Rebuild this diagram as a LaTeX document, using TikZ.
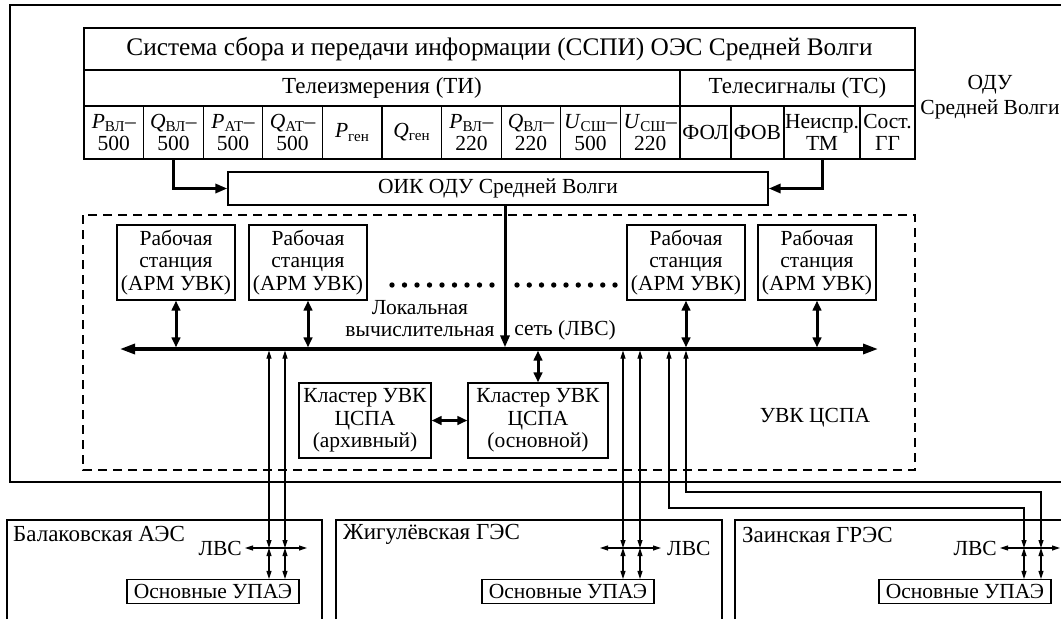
\documentclass[tikz,border=0pt]{standalone}
\usepackage{fontspec}
\setmainfont{Liberation Serif}
\usetikzlibrary{arrows.meta,positioning,calc}

\newcommand{\param}[2]{\textit{#1}\textsubscript{#2}}

\tikzset{
  >={Triangle[length=8pt,width=5pt]},
  font=\fontsize{21.5}{22.5}\selectfont,
  bigfont/.style={font=\fontsize{23}{26}\selectfont},
  frame/.style={line width=1.2pt},
  cell/.style={draw,line width=1.2pt,inner sep=0pt,outer sep=0pt,align=center,
               minimum height=53pt},
  box/.style={draw,line width=1.2pt,inner sep=2pt,align=center},
  wsbox/.style={box,minimum width=118pt,minimum height=75pt},
  upae/.style={box,minimum width=172pt,minimum height=24pt,inner sep=0pt},
  lbl/.style={inner sep=0pt},
  bus/.style={{Triangle[length=15pt,width=10pt]}-{Triangle[length=15pt,width=10pt]},
              line width=3.2pt},
  feed/.style={-{Triangle[length=12pt,width=9pt]},line width=3pt},
  link/.style={{Triangle[length=10pt,width=8.5pt]}-{Triangle[length=10pt,width=8.5pt]},
               line width=3pt},
  wire/.style={<->,line width=1.1pt},
}

\begin{document}
\begin{tikzpicture}[x=1pt,y=-1pt]
  \useasboundingbox (0,0) rectangle (1061,619);

  % ODU frame, open to the right
  \draw[frame] (1061,5) -- (10,5) -- (10,482) -- (1061,482);
  \node[align=center,lbl,font=\fontsize{21.5}{25}\selectfont] (odu) at (990,97.5)
    {ОДУ\\Средней Волги};

  % SSPI table
  \node[cell,minimum width=831pt,minimum height=42pt,font=\fontsize{25.3}{28}\selectfont]
    (sspi) at (499.5,49) {Система сбора и передачи информации (ССПИ) ОЭС Средней Волги};
  \node[cell,bigfont,minimum width=596pt,minimum height=36pt] (ti) at (382,88) {Телеизмерения (ТИ)};
  \node[cell,bigfont,minimum width=235pt,minimum height=36pt] (ts) at (797.5,88) {Телесигналы (ТС)};
  \foreach \txt [count=\i from 0] in {{\param{P}{ВЛ}--\\500},{\param{Q}{ВЛ}--\\500},
      {\param{P}{АТ}--\\500},{\param{Q}{АТ}--\\500},{\param{P}{ген}},{\param{Q}{ген}},
      {\param{P}{ВЛ}--\\220},{\param{Q}{ВЛ}--\\220},{\param{U}{СШ}--\\500},
      {\param{U}{СШ}--\\220}}
    \node[cell,minimum width=59.6pt] (ti\i) at ({113.8+59.6*\i},132.5) {\txt};
  \node[cell,minimum width=51pt,right=0pt of ti9] (fol) {ФОЛ};
  \node[cell,minimum width=53pt,right=0pt of fol] (fov) {ФОВ};
  \node[cell,minimum width=76pt,right=0pt of fov] (netm) {Неиспр.\\ТМ};
  \node[cell,minimum width=55pt,right=0pt of netm] (gg) {Сост.\\ГГ};

  % OIK
  \node[box,minimum width=540pt,minimum height=33pt] (oik) at (498,188.5) {ОИК ОДУ Средней Волги};
  \draw[feed] (ti1.south) |- (oik.west);
  \draw[feed] (netm.south) |- (oik.east);

  % UVK CSPA
  \draw[line width=1.1pt,dash pattern=on 9pt off 6pt] (83,215) rectangle (915,470);
  \coordinate (busL) at (120,349);
  \coordinate (busR) at (878,349);
  \draw[bus] (busL) -- (busR);
  \draw[feed,shorten >=1.6pt] ([xshift=7pt]oik.south) -- ([xshift=7pt]oik.south |- busL);

  \foreach \x [count=\i] in {176,308,686,817}{
    \node[wsbox] (ws\i) at (\x,262.5) {Рабочая\\станция\\(АРМ УВК)};
    \draw[link,shorten >=1.6pt] (ws\i.south) -- (ws\i.south |- busL);
  }
  \foreach \k in {0,...,8}{
    \fill ({392+12.5*\k},285) circle (2.7pt);
    \fill ({517+12.25*\k},285) circle (2.7pt);
  }
  \node[align=center,lbl] (lanA) at (420,318.5) {Локальная\\вычислительная};
  \node[lbl] (lanB) at (565,330) {сеть (ЛВС)};

  \node[box,minimum width=132pt,minimum height=75pt] (arch) at (365,420.5)
    {Кластер УВК\\ЦСПА\\(архивный)};
  \node[box,minimum width=140pt,minimum height=75pt] (main) at (538,420.5)
    {Кластер УВК\\ЦСПА\\(основной)};
  \draw[link] (arch) -- (main);
  \draw[link,shorten >=1.6pt] (main.north) -- (main.north |- busL);
  \node[lbl] (uvk) at (815,418) {УВК ЦСПА};

  % stations
  \draw[frame] (7,619) |- (322,520) -- (322,619);
  \draw[frame] (336,619) |- (722,520) -- (722,619);
  \draw[frame] (735,619) |- (1061,520);
  \node[lbl,bigfont,anchor=west] (bal) at (13,534) {Балаковская АЭС};
  \node[lbl,bigfont,anchor=west] (zhig) at (343,534) {Жигулёвская ГЭС};
  \node[lbl,bigfont,anchor=west] (zain) at (742,535) {Заинская ГРЭС};

  \node[upae] (upB) at (213,591.5) {Основные УПАЭ};
  \node[upae] (upZh) at (568,591.5) {Основные УПАЭ};
  \node[upae] (upZa) at (965,591.5) {Основные УПАЭ};

  % station LANs
  \coordinate (bW) at (245,548);  \coordinate (bE) at (307,548);
  \coordinate (jW) at (600,548);  \coordinate (jE) at (661,548);
  \coordinate (zW) at (1000,548); \coordinate (zE) at (1060,548);
  \coordinate (b1) at (269,548);  \coordinate (b2) at (285,548);
  \coordinate (j1) at (623,548);  \coordinate (j2) at (640,548);
  \coordinate (z1) at (1024,548); \coordinate (z2) at (1041,548);
  \coordinate (t1) at (669,349);  \coordinate (t2) at (686,349);
  \draw[wire] (bW) -- (bE);
  \draw[wire] (jW) -- (jE);
  \draw[wire] (zW) -- (zE);
  \node[lbl,anchor=east] (lanBal) at ([xshift=-3pt]bW) {ЛВС};
  \node[lbl,anchor=west] (lanZh) at ([xshift=6pt]jE) {ЛВС};
  \node[lbl,anchor=east] (lanZa) at ([xshift=-3pt]zW) {ЛВС};

  \foreach \c in {b1,b2,j1,j2}
    \draw[wire,shorten <=1.6pt] (\c |- busL) -- (\c);
  \draw[wire,shorten <=1.6pt] (t1) -- ++(0,159) -| (z1);
  \draw[wire,shorten <=1.6pt] (t2) -- ++(0,143) -| (z2);
  \foreach \c/\u in {b1/upB,b2/upB,j1/upZh,j2/upZh,z1/upZa,z2/upZa}
    \draw[wire] (\c) -- (\c |- \u.north);
\end{tikzpicture}
\end{document}
